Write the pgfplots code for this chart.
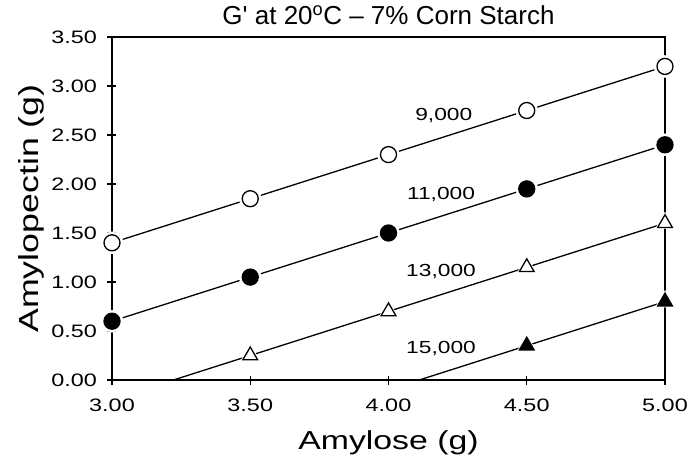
\documentclass[border=0pt]{standalone}
\usepackage{fontspec}
\setmainfont{Liberation Sans}
\newfontfamily\wide{Liberation Sans}[FakeStretch=1.3]
\usepackage{pgfplots}
\pgfplotsset{compat=1.18}

\pgfplotsset{
  ln/.style={black, line width=1.3pt, no marks},
  halo/.style={only marks, white, mark=#1, mark size=11pt},
  pt/.style={only marks, black, line width=1.3pt, mark=#1, mark size=8pt},
  tri/.style={only marks, black, line width=1.3pt, mark=#1, mark size=8.5pt},
}

\begin{document}
\begin{tikzpicture}
\begin{axis}[
  scale only axis, width=553pt, height=343pt,
  xmin=3, xmax=5, ymin=0, ymax=3.5,
  xtick={3,3.5,4,4.5,5}, ytick={0,0.5,1,1.5,2,2.5,3,3.5},
  tick pos=left, tick align=center, major tick length=9pt,
  tick style={black, line width=1.4pt},
  axis line style={line width=1.5pt},
  axis on top,
  tick label style={font=\wide\fontsize{18}{18}\selectfont,
    /pgf/number format/fixed, /pgf/number format/fixed zerofill,
    /pgf/number format/precision=2, /pgf/number format/assume math mode=true},
  xticklabel style={anchor=base, yshift=-26.5pt},
  yticklabel style={anchor=east, inner sep=0pt, xshift=-10.5pt},
  title={G\textquotesingle\ at 20\textsuperscript{o}C -- 7\% Corn Starch},
  title style={font=\fontsize{26}{26}\selectfont, at={(axis description cs:0.5,1)},
    anchor=base, yshift=6.6pt},
  xlabel={Amylose (g)}, ylabel={Amylopectin (g)},
  xlabel style={font=\wide\fontsize{26}{26}\selectfont,
    at={(axis description cs:0.5,0)}, anchor=base, yshift=-69.5pt},
  ylabel style={font=\wide\fontsize{27.5}{27.5}\selectfont,
    at={(axis description cs:-0.1338,0.5)}, anchor=base},
]
% 9,000
\addplot[ln] coordinates {(3,1.40) (3.5,1.85) (4,2.30) (4.5,2.75) (5,3.20)};
\addplot[halo=*] coordinates {(3,1.40) (3.5,1.85) (4,2.30) (4.5,2.75) (5,3.20)};
\addplot[pt=*, mark options={fill=white}] coordinates {(3,1.40) (3.5,1.85) (4,2.30) (4.5,2.75) (5,3.20)};
% 11,000
\addplot[ln] coordinates {(3,0.60) (3.5,1.05) (4,1.50) (4.5,1.95) (5,2.40)};
\addplot[halo=*] coordinates {(3,0.60) (3.5,1.05) (4,1.50) (4.5,1.95) (5,2.40)};
\addplot[pt=*] coordinates {(3,0.60) (3.5,1.05) (4,1.50) (4.5,1.95) (5,2.40)};
% 13,000
\addplot[ln] coordinates {(3.222,0) (3.5,0.25) (4,0.70) (4.5,1.15) (5,1.60)};
\addplot[halo=triangle*] coordinates {(3.5,0.25) (4,0.70) (4.5,1.15) (5,1.60)};
\addplot[tri=triangle*, mark options={fill=white}] coordinates {(3.5,0.25) (4,0.70) (4.5,1.15) (5,1.60)};
% 15,000
\addplot[ln] coordinates {(4.111,0) (4.5,0.35) (5,0.80)};
\addplot[halo=triangle*] coordinates {(4.5,0.35) (5,0.80)};
\addplot[tri=triangle*] coordinates {(4.5,0.35) (5,0.80)};

\begin{scope}[font=\wide\fontsize{17.5}{17.5}\selectfont]
\node at (axis cs:4.20,2.70) {9,000};
\node at (axis cs:4.19,1.89) {11,000};
\node at (axis cs:4.19,1.11) {13,000};
\node at (axis cs:4.19,0.32) {15,000};
\end{scope}
\end{axis}
\pgfresetboundingbox
\path (current axis.south west) ++(-112pt,-81pt) rectangle ([shift={(24pt,37pt)}]current axis.north east);
\end{tikzpicture}
\end{document}
